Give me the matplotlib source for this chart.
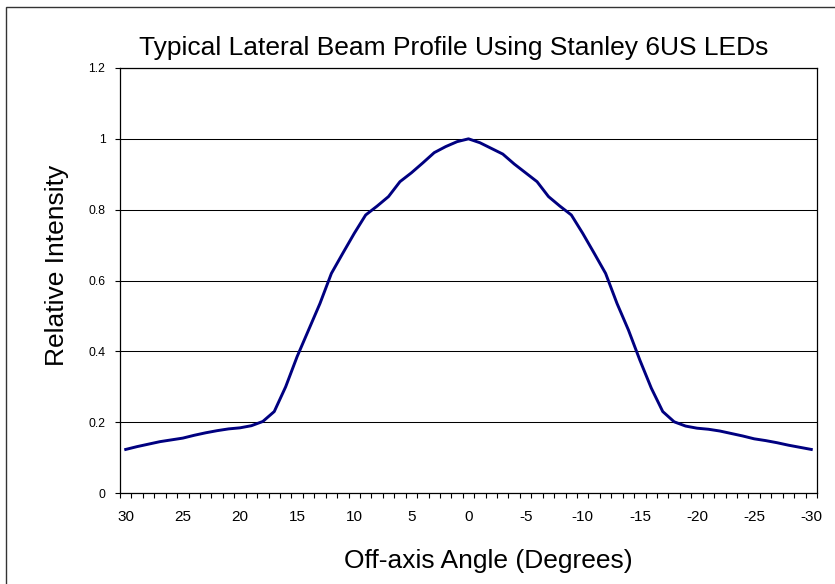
import matplotlib
matplotlib.use("Agg")
import matplotlib.pyplot as plt
from matplotlib.patches import Rectangle

plt.rcParams['font.family'] = ['Liberation Sans', 'DejaVu Sans']

# ---- data ----
angles = list(range(30, -31, -1))
intensity = [0.123, 0.131, 0.138, 0.145, 0.150, 0.155, 0.163, 0.170, 0.176, 0.181,
             0.184, 0.190, 0.202, 0.230, 0.300, 0.385, 0.460, 0.535, 0.620, 0.677,
             0.733, 0.785, 0.810, 0.837, 0.879, 0.904, 0.932, 0.961, 0.978, 0.992,
             1.000,
             0.989, 0.973, 0.957, 0.929, 0.904, 0.879, 0.837, 0.810, 0.785, 0.733,
             0.677, 0.620, 0.535, 0.460, 0.375, 0.296, 0.230, 0.201, 0.189, 0.183,
             0.180, 0.175, 0.168, 0.161, 0.153, 0.148, 0.142, 0.135, 0.129, 0.123]
x_labels = [30, 25, 20, 15, 10, 5, 0, -5, -10, -15, -20, -25, -30]
y_ticks = [0, 0.2, 0.4, 0.6, 0.8, 1.0, 1.2]
y_labels = ['0', '0.2', '0.4', '0.6', '0.8', '1', '1.2']

W, H = 835, 584
fig = plt.figure(figsize=(W / 100, H / 100), dpi=100)
ax = fig.add_axes([120 / W, 1 - 493 / H, (817 - 120) / W, (493 - 68) / H])

ax.plot(angles, intensity, color='#000080', lw=2.1, zorder=3)

ax.set_xlim(30.5, -30.5)
ax.set_ylim(0, 1.2)

# category-style x axis: ticks between points, labels under every 5th
ax.set_xticks(x_labels)
ax.set_xticklabels([str(v) for v in x_labels], fontsize=11)
ax.set_xticks([a + 0.5 for a in angles] + [-30.5], minor=True)
ax.tick_params(axis='x', which='major', length=0, pad=12)
ax.tick_params(axis='x', which='minor', length=3.5, width=0.8, direction='out')

ax.set_yticks(y_ticks)
ax.set_yticklabels(y_labels, fontsize=8.8)
ax.tick_params(axis='y', length=3.5, width=0.8, direction='out', pad=7)

ax.grid(axis='y', color='black', lw=0.75)
ax.set_axisbelow(True)
for s in ax.spines.values():
    s.set_color('black')
    s.set_linewidth(0.9)

fig.text(454 / W, 1 - 55 / H, 'Typical Lateral Beam Profile Using Stanley 6US LEDs',
         ha='center', va='baseline', fontsize=19)
fig.text(488 / W, 1 - 568 / H, 'Off-axis Angle (Degrees)',
         ha='center', va='baseline', fontsize=19)
fig.text(57 / W, 1 - 265 / H, 'Relative Intensity', rotation=90,
         ha='center', va='center', fontsize=19)

# chart area border (runs off the right and bottom edges in the reference)
fig.patches.append(Rectangle((6 / W, -0.5), 1.5, 1.5 - 7 / H, transform=fig.transFigure,
                             fill=False, edgecolor='#333333', lw=1.0))

fig.savefig('out.png', dpi=100)
